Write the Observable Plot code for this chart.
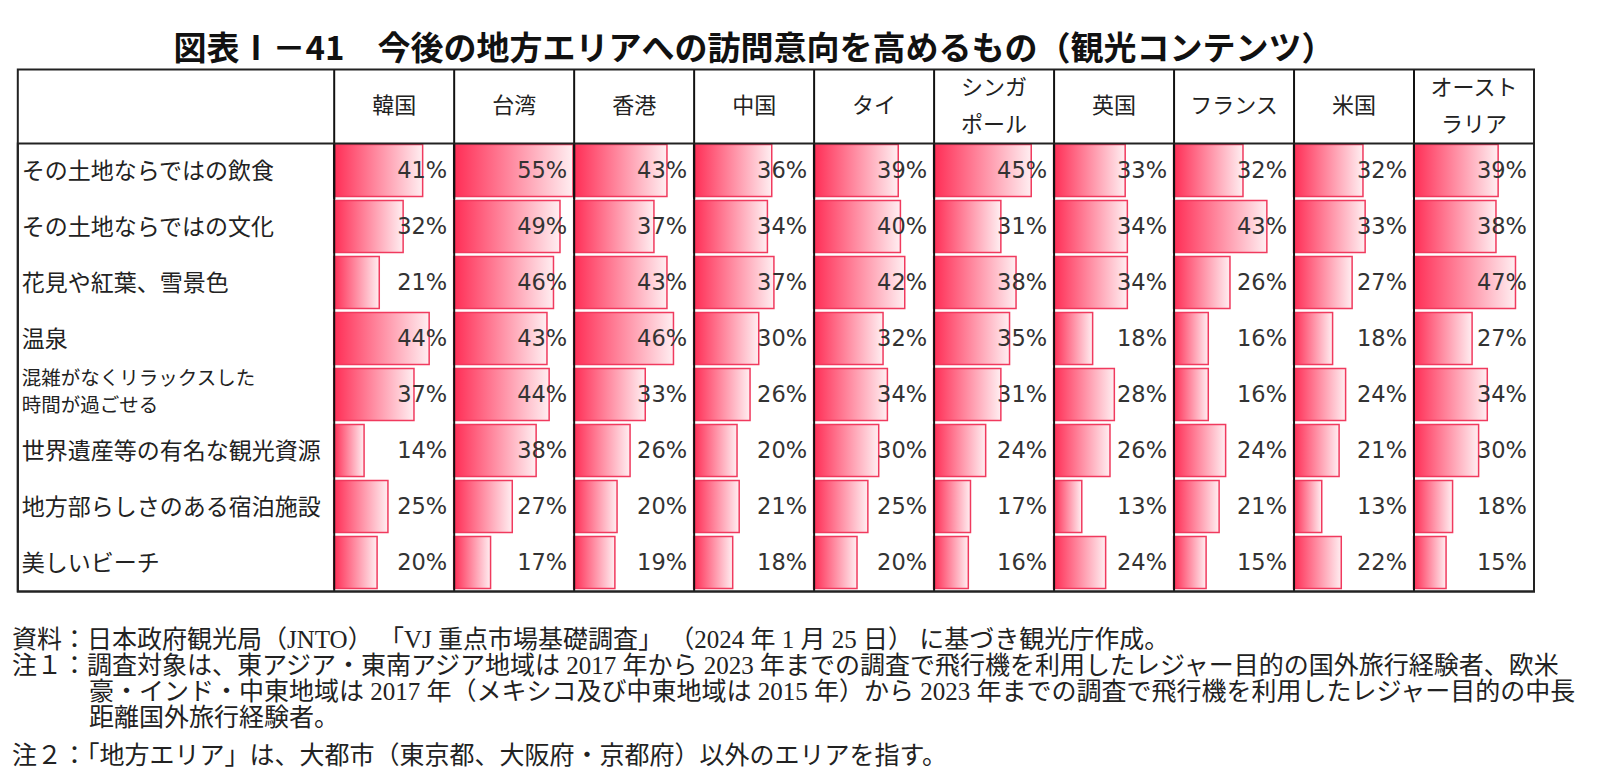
<!DOCTYPE html>
<html><head><meta charset="utf-8">
<script src="https://cdn.jsdelivr.net/npm/d3@7"></script>
<script src="https://cdn.jsdelivr.net/npm/@observablehq/plot@0.6"></script>
<style>
html,body{margin:0;padding:0;overflow:hidden;}
body{background:#fff;width:1600px;height:775px;position:relative;}
#title{position:absolute;left:0;top:26px;width:1508px;text-align:center;font-family:"Noto Sans CJK JP",sans-serif;font-weight:bold;font-size:33px;line-height:40px;color:#111;white-space:nowrap;}
#chart{position:absolute;left:0;top:68px;width:1600px;}
#chart svg{max-width:none;}
.note{position:absolute;white-space:nowrap;font-family:"Liberation Serif","Noto Sans CJK JP",serif;font-size:25px;line-height:26px;color:#222;}
</style></head><body>
<div id="title">図表Ⅰ－41　今後の地方エリアへの訪問意向を高めるもの（観光コンテンツ）</div>
<div id="chart"></div>
<div class="note" style="left:12px;top:627px;">資料：日本政府観光局（JNTO） 「VJ 重点市場基礎調査」 （2024 年 1 月 25 日） に基づき観光庁作成。</div>
<div class="note" style="left:12px;top:653px;">注１：調査対象は、東アジア・東南アジア地域は 2017 年から 2023 年までの調査で飛行機を利用したレジャー目的の国外旅行経験者、欧米</div>
<div class="note" style="left:89px;top:679px;">豪・インド・中東地域は 2017 年（メキシコ及び中東地域は 2015 年）から 2023 年までの調査で飛行機を利用したレジャー目的の中長</div>
<div class="note" style="left:89px;top:705px;">距離国外旅行経験者。</div>
<div class="note" style="left:12px;top:743px;">注２：「地方エリア」は、大都市（東京都、大阪府・京都府）以外のエリアを指す。</div>
<script>
const countries = ["韓国", "台湾", "香港", "中国", "タイ", "シンガポール", "英国", "フランス", "米国", "オーストラリア"];
const headerLabels = ["韓国", "台湾", "香港", "中国", "タイ", "シンガ\nポール", "英国", "フランス", "米国", "オースト\nラリア"];
const categories = [
  "その土地ならではの飲食",
  "その土地ならではの文化",
  "花見や紅葉、雪景色",
  "温泉",
  "混雑がなくリラックスした\n時間が過ごせる",
  "世界遺産等の有名な観光資源",
  "地方部らしさのある宿泊施設",
  "美しいビーチ"
];
const korea     = [41, 32, 21, 44, 37, 14, 25, 20];
const taiwan    = [55, 49, 46, 43, 44, 38, 27, 17];
const hongkong  = [43, 37, 43, 46, 33, 26, 20, 19];
const china     = [36, 34, 37, 30, 26, 20, 21, 18];
const thailand  = [39, 40, 42, 32, 34, 30, 25, 20];
const singapore = [45, 31, 38, 35, 31, 24, 17, 16];
const uk        = [33, 34, 34, 18, 28, 26, 13, 24];
const france    = [32, 43, 26, 16, 16, 24, 21, 15];
const usa       = [32, 33, 27, 18, 24, 21, 13, 22];
const australia = [39, 38, 47, 27, 34, 30, 18, 15];
const series = [korea, taiwan, hongkong, china, thailand, singapore, uk, france, usa, australia];

const cells = countries.flatMap((country, i) =>
  categories.map((category, j) => ({country, category, value: series[i][j]})));

const xMax = 55.3;
const labelColWidth = 316.4;
const headerHeight = 74;

const svg = Plot.plot({
  width: 1600,
  height: 526,
  marginLeft: 333.7,
  marginRight: 66.5,
  marginTop: 75,
  marginBottom: 3,
  fx: {domain: countries, padding: 0, round: false, axis: null},
  fy: {domain: categories, padding: 0, round: false, axis: null},
  x: {domain: [0, xMax], axis: null},
  style: {fontFamily: "'Noto Sans CJK JP', sans-serif", fontSize: "22px", background: "white", overflow: "visible"},
  marks: [
    Plot.barX(cells, {fx: "country", fy: "category", x: "value",
      fill: "url(#bargrad)", stroke: "#f03a5e", strokeWidth: 1.5, insetTop: 1.5, insetBottom: 2.5}),
    Plot.text(cells, {fx: "country", fy: "category", text: d => d.value + "%",
      frameAnchor: "right", textAnchor: "end", dx: -7, dy: -0.5, fontSize: 22.5,
      fontFamily: "'DejaVu Sans', sans-serif", fill: "#333"}),
    Plot.ruleX(cells, {fx: "country", fy: "category", x: 0, stroke: "#111", strokeWidth: 2}),
    Plot.ruleX(countries, {fx: d => d, fy: () => categories[0], x: 0, insetTop: -headerHeight, stroke: "#111", strokeWidth: 2}),
    Plot.text(countries, {fx: d => d, fy: () => categories[0], text: (d, i) => headerLabels[i],
      frameAnchor: "top", dy: -headerHeight / 2 - 5, lineAnchor: "middle", lineHeight: 1.7, fontSize: 22, fill: "#222"}),
    Plot.text(categories.filter(d => !d.includes("\n")), {fx: () => countries[0], fy: d => d, text: d => d,
      frameAnchor: "left", textAnchor: "start", dx: -labelColWidth + 4, fontSize: 23, fill: "#222"}),
    Plot.text(categories.filter(d => d.includes("\n")), {fx: () => countries[0], fy: d => d, text: d => d,
      frameAnchor: "left", textAnchor: "start", dx: -labelColWidth + 4, dy: -6, fontSize: 19.5, lineHeight: 1.38, fill: "#222"}),
    Plot.frame({facet: "super", insetLeft: -labelColWidth, insetTop: -headerHeight, stroke: "#222", strokeWidth: 2}),
    Plot.frame({facet: "super", insetLeft: -labelColWidth, stroke: "#222", strokeWidth: 2})
  ]
});

const defs = d3.select(svg).insert("defs", ":first-child");
const grad = defs.append("linearGradient").attr("id", "bargrad")
  .attr("x1", "0").attr("x2", "1").attr("y1", "0").attr("y2", "0");
grad.append("stop").attr("offset", "0%").attr("stop-color", "#ff2d55");
grad.append("stop").attr("offset", "100%").attr("stop-color", "#ffeef1");

document.getElementById("chart").appendChild(svg);
</script>
</body></html>
